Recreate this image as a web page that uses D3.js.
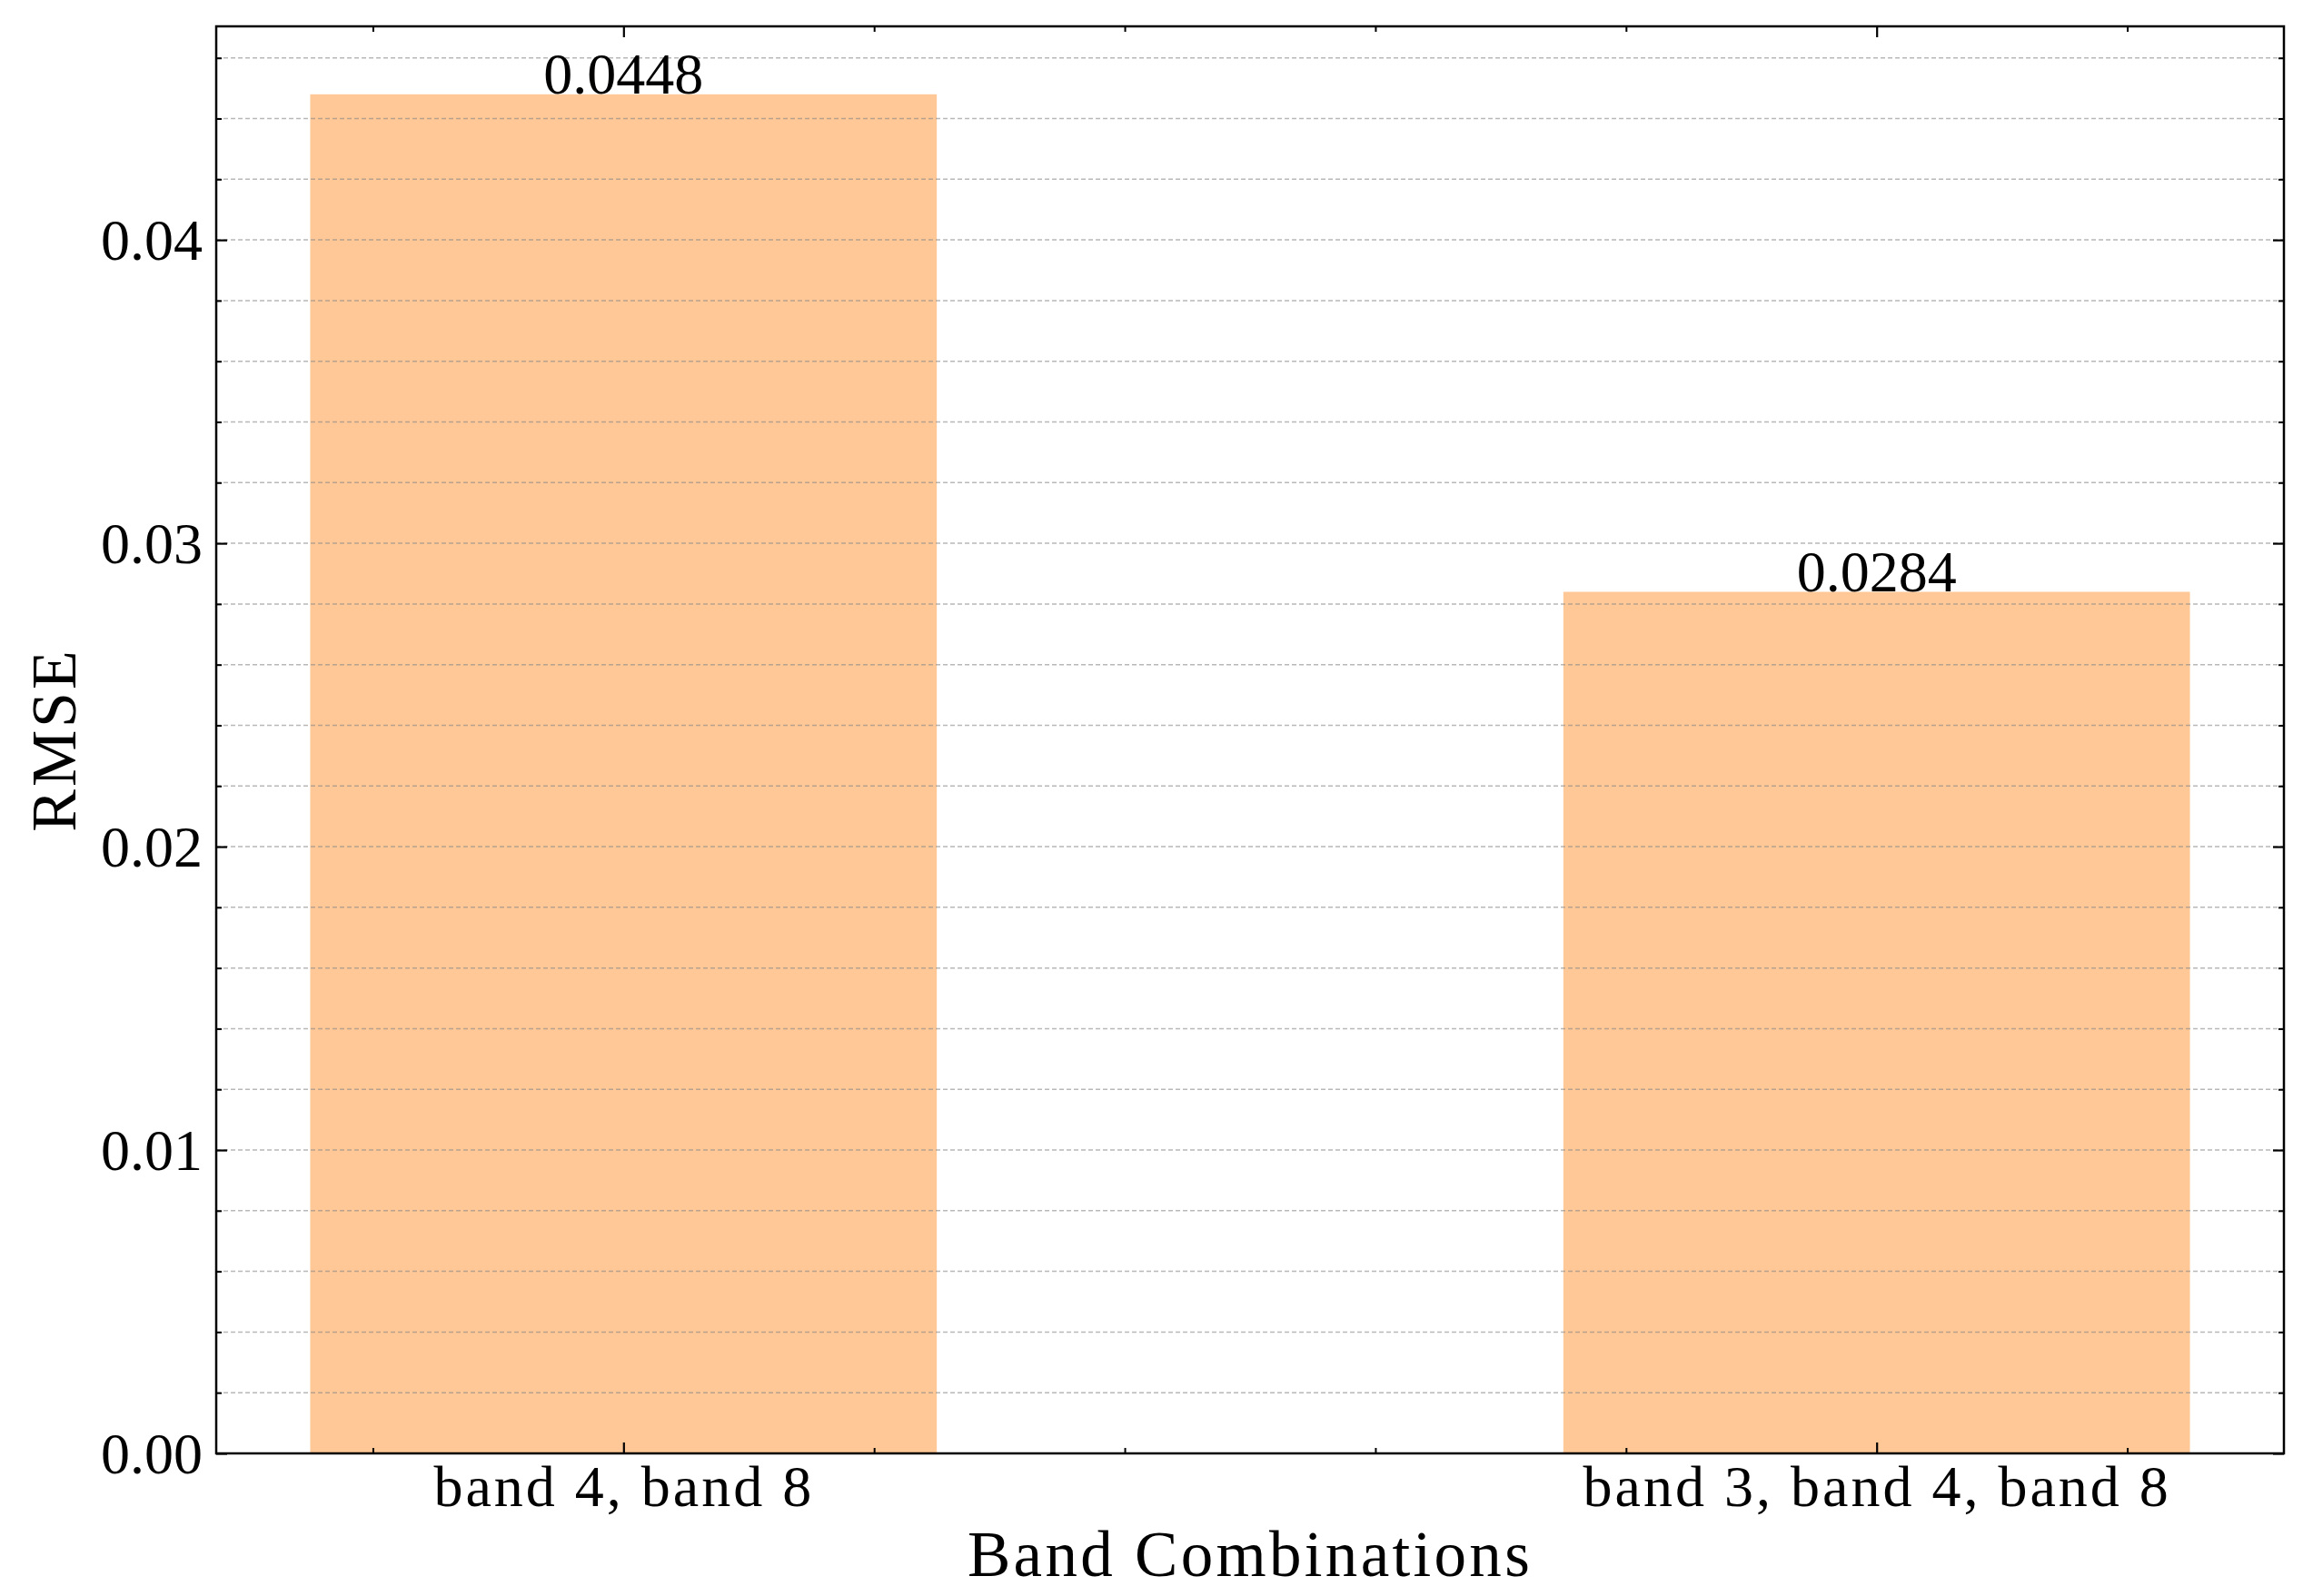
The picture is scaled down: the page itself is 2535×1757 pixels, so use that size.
<!DOCTYPE html>
<html>
<head>
<meta charset="utf-8">
<script src="https://cdn.jsdelivr.net/npm/d3@7"></script>
<style>
  body { margin: 0; background: #fff; }
  text { font-family: "Liberation Serif", "Times New Roman", serif; fill: #000; }
</style>
</head>
<body>
<svg id="chart" width="2535" height="1757"></svg>
<script>
// ---- data ----
const categories = ["band 4, band 8", "band 3, band 4, band 8"];
const rmse = [0.0448, 0.0284];
const valueLabels = ["0.0448", "0.0284"];
const yMajorTicks = [0, 0.01, 0.02, 0.03, 0.04];
const yTickLabels = ["0.00", "0.01", "0.02", "0.03", "0.04"];
const yMinorTicks = [0.002, 0.004, 0.006, 0.008, 0.012, 0.014, 0.016, 0.018,
                     0.022, 0.024, 0.026, 0.028, 0.032, 0.034, 0.036, 0.038,
                     0.042, 0.044, 0.046];
const xMinorTicks = [-0.2, 0.2, 0.4, 0.6, 0.8, 1.2];
const xLabel = "Band Combinations";
const yLabel = "RMSE";

// ---- layout ----
const W = 2535, H = 1757;
const L = 238, R = 2514, T = 29, B = 1600;
const barW = 0.5;
const barColor = "#FFC896";

const svg = d3.select("#chart");
svg.append("rect").attr("width", W).attr("height", H).attr("fill", "#fff");

const x = d3.scaleLinear().domain([-0.325, 1.325]).range([L, R]);
const y = d3.scaleLinear().domain([0, 0.04704]).range([B, T]);

// bars
svg.append("g").selectAll("rect").data(rmse).join("rect")
  .attr("x", (d, i) => x(i - barW / 2))
  .attr("width", (d, i) => x(i + barW / 2) - x(i - barW / 2))
  .attr("y", d => y(d))
  .attr("height", d => y(0) - y(d))
  .attr("fill", barColor);

// horizontal grid (every major & minor y tick), drawn above bars
const gridVals = yMajorTicks.concat(yMinorTicks).filter(v => v > 0);
svg.append("g").selectAll("line").data(gridVals).join("line")
  .attr("x1", L).attr("x2", R)
  .attr("y1", d => y(d)).attr("y2", d => y(d))
  .attr("stroke", "#888").attr("stroke-opacity", 0.6)
  .attr("stroke-width", 1.5).attr("stroke-dasharray", "5,3");

// axes (ticks inward)
const fmtY = (d, i) => yTickLabels[yMajorTicks.indexOf(d)];
function styleAxis(g, w) {
  g.select(".domain").remove();
  g.selectAll(".tick line").attr("stroke", "#000").attr("stroke-width", w);
}
// left major
svg.append("g").attr("transform", `translate(${L},0)`)
  .call(d3.axisLeft(y).tickValues(yMajorTicks).tickFormat(fmtY).tickSize(-12).tickPadding(15))
  .call(g => styleAxis(g, 2.2))
  .call(g => g.selectAll("text").attr("font-size", 64).attr("dy", "0.34em")
    .attr("font-family", "Liberation Serif"));
// left minor
svg.append("g").attr("transform", `translate(${L},0)`)
  .call(d3.axisLeft(y).tickValues(yMinorTicks).tickFormat("").tickSize(-6))
  .call(g => styleAxis(g, 2));
// right major / minor
svg.append("g").attr("transform", `translate(${R},0)`)
  .call(d3.axisRight(y).tickValues(yMajorTicks).tickFormat("").tickSize(-12))
  .call(g => styleAxis(g, 2.2));
svg.append("g").attr("transform", `translate(${R},0)`)
  .call(d3.axisRight(y).tickValues(yMinorTicks).tickFormat("").tickSize(-6))
  .call(g => styleAxis(g, 2));
// bottom major with category labels
svg.append("g").attr("transform", `translate(0,${B})`)
  .call(d3.axisBottom(x).tickValues(categories.map((c, i) => i))
    .tickFormat(i => categories[i]).tickSize(-12).tickPadding(0))
  .call(g => styleAxis(g, 2.2))
  .call(g => g.selectAll("text").attr("font-size", 64).attr("y", 58).attr("dy", 0)
    .attr("letter-spacing", "3px").attr("font-family", "Liberation Serif"));
svg.append("g").attr("transform", `translate(0,${B})`)
  .call(d3.axisBottom(x).tickValues(xMinorTicks).tickFormat("").tickSize(-6))
  .call(g => styleAxis(g, 2));
// top major / minor
svg.append("g").attr("transform", `translate(0,${T})`)
  .call(d3.axisTop(x).tickValues(categories.map((c, i) => i)).tickFormat("").tickSize(-12))
  .call(g => styleAxis(g, 2.2));
svg.append("g").attr("transform", `translate(0,${T})`)
  .call(d3.axisTop(x).tickValues(xMinorTicks).tickFormat("").tickSize(-6))
  .call(g => styleAxis(g, 2));

// frame
svg.append("rect").attr("x", L).attr("y", T).attr("width", R - L).attr("height", B - T)
  .attr("fill", "none").attr("stroke", "#000").attr("stroke-width", 2.5);

// value labels
svg.append("g").selectAll("text").data(rmse).join("text")
  .attr("x", (d, i) => x(i))
  .attr("y", d => y(d) - 1)
  .attr("text-anchor", "middle")
  .attr("font-size", 64)
  .text((d, i) => valueLabels[i]);

// axis labels
svg.append("text")
  .attr("x", (L + R) / 2).attr("y", 1735)
  .attr("text-anchor", "middle").attr("font-size", 71)
  .attr("letter-spacing", "3.3px")
  .text(xLabel);
svg.append("text")
  .attr("transform", `translate(83,${(T + B) / 2}) rotate(-90)`)
  .attr("text-anchor", "middle").attr("font-size", 70)
  .attr("letter-spacing", "3px")
  .text(yLabel);
</script>
</body>
</html>
